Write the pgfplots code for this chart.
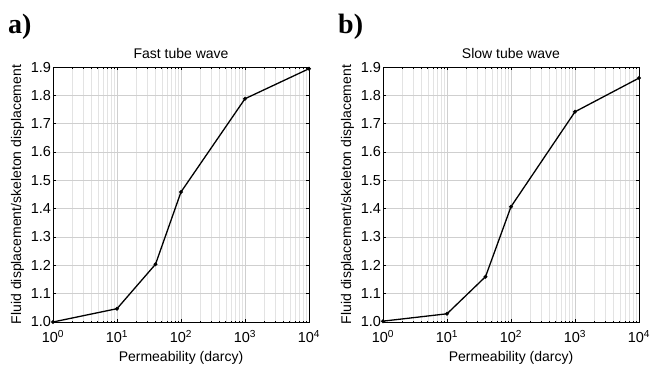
\documentclass[border=0pt]{standalone}
\usepackage{fontspec}
\setmainfont{Liberation Sans}
\newfontfamily\timesfont{Liberation Serif}
\usepackage{pgfplots}
\pgfplotsset{compat=1.18}
\pgfplotsset{
  myax/.style={
    scale only axis, width=256pt, height=255pt,
    xmin=1, xmax=10000, ymin=1, ymax=1.9,
    xtick={1,10,100,1000,10000},
    xticklabels={10\textsuperscript{0},10\textsuperscript{1},10\textsuperscript{2},10\textsuperscript{3},10\textsuperscript{4}},
    ytick={1,1.1,1.2,1.3,1.4,1.5,1.6,1.7,1.8,1.9},
    /pgf/number format/fixed,
    /pgf/number format/fixed zerofill,
    /pgf/number format/precision=1,
    /pgf/number format/assume math mode=true,
    tick align=inside, major tick length=3pt, minor tick length=1.5pt,
    grid=both,
    major grid style={gray!38, line width=0.5pt},
    minor grid style={gray!22, line width=0.4pt},
    axis line style={black, line width=0.6pt},
    tick style={black, line width=0.5pt},
    xticklabel style={font=\fontsize{14.5}{16}\selectfont, yshift=-5pt},
    yticklabel style={font=\fontsize{14.5}{16}\selectfont, xshift=1.5pt},
    label style={font=\fontsize{14}{16}\selectfont},
    title style={font=\fontsize{14}{16}\selectfont, yshift=-1pt},
    xlabel={Permeability (darcy)},
    ylabel={Fluid displacement/skeleton displacement},
    xlabel style={yshift=-1pt},
    ylabel style={yshift=0pt},
    clip=false,
  }
}
\begin{document}
\begin{tikzpicture}
\begin{semilogxaxis}[myax, at={(0pt,0pt)}, title={Fast tube wave}]
\addplot[black, line width=1.3pt, mark=*, mark size=1.2pt] coordinates {
(1,1.0) (10,1.047) (40,1.204) (100,1.459) (1000,1.788) (10000,1.894)};
\end{semilogxaxis}
\begin{semilogxaxis}[myax, at={(330pt,0pt)}, title={Slow tube wave}]
\addplot[black, line width=1.3pt, mark=*, mark size=1.2pt] coordinates {
(1,1.003) (10,1.029) (40,1.160) (100,1.407) (1000,1.742) (10000,1.861)};
\end{semilogxaxis}
\node[anchor=base west, inner sep=0pt, font=\timesfont\bfseries\fontsize{28}{30}\selectfont] at (-45pt,289pt) {a)};
\node[anchor=base west, inner sep=0pt, font=\timesfont\bfseries\fontsize{28}{30}\selectfont] at (285pt,289pt) {b)};
\pgfresetboundingbox
\path[use as bounding box] (-53pt,-43pt) rectangle (598pt,322pt);
\end{tikzpicture}
\end{document}
